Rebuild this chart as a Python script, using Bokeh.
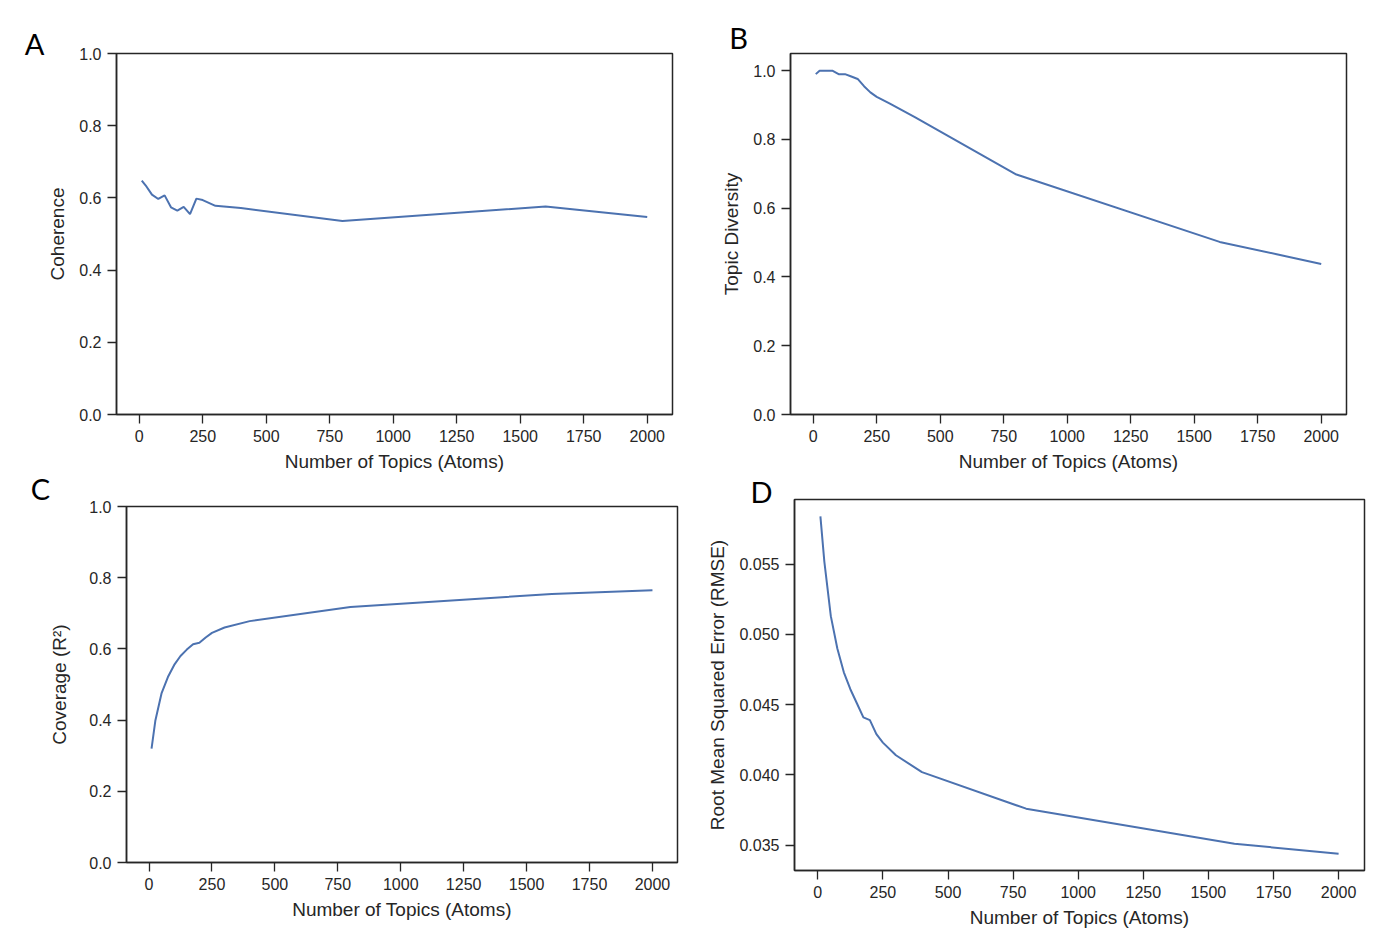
from bokeh.plotting import figure
from bokeh.layouts import row, column
from bokeh.models import Range1d, FixedTicker, NumeralTickFormatter, Label
from bokeh.embed import file_html
from bokeh.resources import INLINE

# ---------------- data ----------------
n_topics = [10, 25, 50, 75, 100, 125, 150, 175, 200, 225, 250, 300, 400, 800, 1600, 2000]
coherence = [0.648, 0.635, 0.609, 0.597, 0.607, 0.574, 0.565, 0.575, 0.555, 0.598, 0.594,
             0.578, 0.572, 0.536, 0.576, 0.547]
diversity = [0.990, 1.000, 1.000, 1.000, 0.990, 0.990, 0.983, 0.976, 0.955, 0.937, 0.924,
             0.905, 0.865, 0.698, 0.502, 0.438]
coverage = [0.320, 0.398, 0.476, 0.521, 0.555, 0.580, 0.598, 0.613, 0.617, 0.632, 0.645,
            0.660, 0.678, 0.718, 0.754, 0.765]
rmse = [0.0584, 0.0552, 0.0513, 0.0490, 0.0473, 0.0461, 0.0451, 0.0441, 0.0439, 0.0429,
        0.0423, 0.0414, 0.0402, 0.0376, 0.0351, 0.0344]

x_ticks = [0, 250, 500, 750, 1000, 1250, 1500, 1750, 2000]
y_ticks_unit = [0.0, 0.2, 0.4, 0.6, 0.8, 1.0]
y_ticks_rmse = [0.035, 0.040, 0.045, 0.050, 0.055]

x_label = "Number of Topics (Atoms)"
panel_letters = ["A", "B", "C", "D"]
y_labels = ["Coherence", "Topic Diversity", "Coverage (R²)", "Root Mean Squared Error (RMSE)"]

LINE = "#4C72B0"
INK = "#262626"
FONT = "Liberation Sans"


def margin_range(vals, lo=None):
    vmin, vmax = min(vals), max(vals)
    if lo is not None:
        vmin = lo
    span = vmax - vmin
    s = vmin - 0.05 * span if lo is None else lo
    return Range1d(s, vmax + 0.05 * span)


def make_panel(ys, yr, yticks, yfmt, ylabel, letter, frame, borders, letter_px,
               ylab_standoff, letter_side):
    fw, fh = frame
    bl, br, bt, bb = borders
    xr = margin_range(n_topics)
    p = figure(frame_width=fw, frame_height=fh, output_backend="svg", toolbar_location=None,
               x_range=xr, y_range=yr, frame_align=False,
               min_border_left=bl, min_border_right=br, min_border_top=bt, min_border_bottom=bb)
    p.line(n_topics, ys, line_color=LINE, line_width=2)
    p.grid.visible = False
    p.outline_line_color = INK
    p.outline_line_width = 1.5
    p.outline_line_alpha = 1.0
    p.background_fill_color = "white"
    p.border_fill_color = "white"

    p.xaxis.ticker = FixedTicker(ticks=x_ticks)
    p.yaxis.ticker = FixedTicker(ticks=yticks)
    p.yaxis.formatter = NumeralTickFormatter(format=yfmt)
    p.xaxis.axis_label = x_label
    p.yaxis.axis_label = ylabel
    for ax in (p.xaxis[0], p.yaxis[0]):
        ax.axis_line_color = INK
        ax.axis_line_width = 1.5
        ax.major_tick_line_color = INK
        ax.major_tick_line_width = 1.3
        ax.major_tick_out = 9
        ax.major_tick_in = 0
        ax.minor_tick_line_color = None
        ax.major_label_text_font = FONT
        ax.major_label_text_font_size = "16px"
        ax.major_label_text_color = INK
        ax.major_label_standoff = 6
        ax.axis_label_text_font = FONT
        ax.axis_label_text_font_size = "19px"
        ax.axis_label_text_font_style = "normal"
        ax.axis_label_text_color = INK
    p.xaxis.axis_label_standoff = 6
    p.yaxis.axis_label_standoff = ylab_standoff

    # panel letter: pixel offset from frame's bottom-left converted through the ranges
    dx, dy = letter_px
    lx = xr.start + dx * (xr.end - xr.start) / fw
    ly = yr.start + dy * (yr.end - yr.start) / fh
    p.add_layout(Label(x=lx, y=ly, text=letter,
                       text_font="Lato", text_font_size="29px", text_color="black",
                       text_align="center", text_baseline="middle"), letter_side)
    return p


pA = make_panel(coherence, Range1d(0, 1.0), y_ticks_unit, "0.0", y_labels[0], panel_letters[0],
                (556, 361), (116, 26, 53, 64), (-82, 371), 8, "above")
pB = make_panel(diversity, margin_range(diversity, lo=0.0), y_ticks_unit, "0.0", y_labels[1],
                panel_letters[1], (556, 361), (92, 28, 53, 64), (-52, 377), 8, "above")
pC = make_panel(coverage, Range1d(0, 1.0), y_ticks_unit, "0.0", y_labels[2], panel_letters[2],
                (551, 356), (126, 4, 28, 74), (-86, 374), 16, "left")
pD = make_panel(rmse, margin_range(rmse), y_ticks_rmse, "0.000", y_labels[3], panel_letters[3],
                (570, 371), (113, 10, 21, 66), (-33, 379), 8, "left")

layout = column(row(pA, pB), row(pC, pD))

open("out.html", "w").write(file_html(layout, INLINE))
